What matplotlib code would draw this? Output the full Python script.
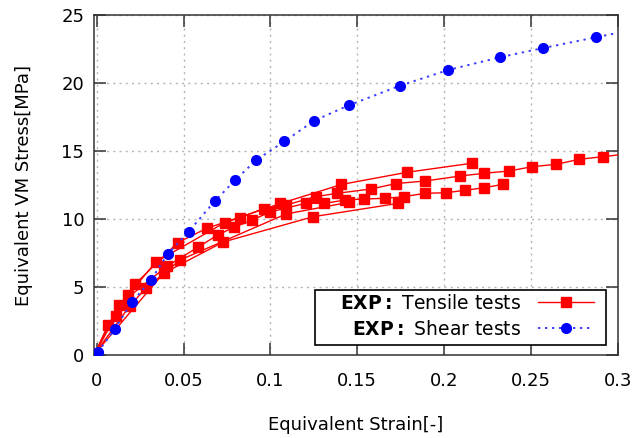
import matplotlib
matplotlib.use("Agg")
import matplotlib.pyplot as plt
from matplotlib.patches import Rectangle

# ---- data ----
tensile_a_strain = [-0.001, 0.0066, 0.0222, 0.0467, 0.0635, 0.1058, 0.1409, 0.1784, 0.2159]
tensile_a_stress = [0.1, 2.21, 5.22, 8.27, 9.32, 11.14, 12.54, 13.43, 14.10]

tensile_b_strain = [-0.001, 0.011, 0.0182, 0.0341, 0.0738, 0.0827, 0.0962, 0.109, 0.126, 0.1384,
                    0.158, 0.1724, 0.1888, 0.2091, 0.2229, 0.2373, 0.2508, 0.2644, 0.2777, 0.2912, 0.306]
tensile_b_stress = [0.1, 2.87, 4.41, 6.84, 9.74, 10.11, 10.77, 11.03, 11.64, 11.89,
                    12.21, 12.61, 12.79, 13.16, 13.36, 13.53, 13.85, 14.02, 14.39, 14.58, 14.8]

tensile_c_strain = [-0.001, 0.0127, 0.0406, 0.0585, 0.0696, 0.0788, 0.0892, 0.0997, 0.1202, 0.1311,
                    0.1432, 0.1538, 0.1657, 0.1768, 0.1889, 0.2009, 0.212, 0.2229, 0.2341]
tensile_c_stress = [0.1, 3.68, 6.54, 7.94, 8.82, 9.38, 9.90, 10.51, 11.15, 11.15,
                    11.40, 11.47, 11.52, 11.64, 11.89, 11.93, 12.11, 12.30, 12.55]

tensile_d_strain = [-0.001, 0.019, 0.0282, 0.0481, 0.109, 0.1452]
tensile_d_stress = [0.1, 3.60, 4.89, 6.99, 10.37, 11.23]

tensile_e_strain = [-0.001, 0.0385, 0.0729, 0.1246, 0.1736]
tensile_e_stress = [0.1, 6.01, 8.31, 10.17, 11.15]

shear_strain = [0.0007, 0.0103, 0.0203, 0.0312, 0.041, 0.0529, 0.0679, 0.0798, 0.0919, 0.1081,
                0.1252, 0.1455, 0.1745, 0.2024, 0.232, 0.2569, 0.2873, 0.316]
shear_stress = [0.2, 1.89, 3.88, 5.51, 7.43, 9.07, 11.30, 12.87, 14.34, 15.71,
                17.23, 18.38, 19.80, 20.96, 21.89, 22.57, 23.36, 24.1]

x_ticks = [0, 0.05, 0.1, 0.15, 0.2, 0.25, 0.3]
x_tick_labels = ["0", "0.05", "0.1", "0.15", "0.2", "0.25", "0.3"]
y_ticks = [0, 5, 10, 15, 20, 25]
y_tick_labels = ["0", "5", "10", "15", "20", "25"]

x_label = "Equivalent Strain[-]"
y_label = "Equivalent VM Stress[MPa]"
tensile_label = r"$\mathbf{EXP{:}}$ Tensile tests"
shear_label = r"$\mathbf{EXP{:}}$ Shear tests"

# ---- figure ----
plt.rcParams["font.family"] = ["DejaVu Sans"]
plt.rcParams["mathtext.fontset"] = "dejavusans"

fig = plt.figure(figsize=(6.35, 4.38), dpi=100)
ax = fig.add_axes([94 / 635, 1 - 355 / 438, (618 - 94) / 635, (355 - 15) / 438])

red = "#ff0000"
blue = "#0000ff"

curves = [
    (tensile_a_strain, tensile_a_stress),
    (tensile_b_strain, tensile_b_stress),
    (tensile_c_strain, tensile_c_stress),
    (tensile_d_strain, tensile_d_stress),
    (tensile_e_strain, tensile_e_stress),
]
for i, (xs, ys) in enumerate(curves):
    ax.plot(xs, ys, color=red, lw=1.0, marker="s", ms=7.0, mec=red, mfc=red,
            label=tensile_label if i == 0 else None, zorder=3)

ax.plot(shear_strain, shear_stress, color="#3c3cff", lw=1.4, ls=(0, (1.2, 2.4)),
        marker="o", ms=7.0, mec=blue, mfc=blue, label=shear_label, zorder=4)

ax.set_xlim(-0.0015, 0.3)
ax.set_ylim(0, 25)
ax.set_xticks(x_ticks)
ax.set_xticklabels(x_tick_labels)
ax.set_yticks(y_ticks)
ax.set_yticklabels(y_tick_labels)

ax.grid(True, color="#b4b4b4", ls=(0, (1.5, 3)), lw=1.0)
ax.set_axisbelow(True)

ax.tick_params(axis="both", which="major", direction="in", length=8.5, width=1.1,
               color="#333333", labelsize=13, top=True, right=True)
ax.tick_params(axis="x", pad=12)
ax.tick_params(axis="y", pad=7)
for sp in ax.spines.values():
    sp.set_linewidth(1.1)
    sp.set_color("#333333")

ax.set_xlabel(x_label, fontsize=13, labelpad=19)
ax.set_ylabel(y_label, fontsize=13, labelpad=20)

# legend frame box (gnuplot-style wide key box)
box_x0 = (315 - 94) / 524
box_y0 = (355 - 345) / 340
box_w = (606 - 315) / 524
box_h = (345 - 290) / 340
ax.add_patch(Rectangle((box_x0, box_y0), box_w, box_h, transform=ax.transAxes,
                       facecolor="white", edgecolor="black", lw=1.2, zorder=6))

leg = ax.legend(loc="lower right", bbox_to_anchor=(0.962, 0.036), borderaxespad=0,
                markerfirst=False, fontsize=13.5, frameon=False, handlelength=3.0,
                labelspacing=0.4, borderpad=0.2, handletextpad=0.9)
leg.set_zorder(7)

fig.savefig("out.png", dpi=100)
